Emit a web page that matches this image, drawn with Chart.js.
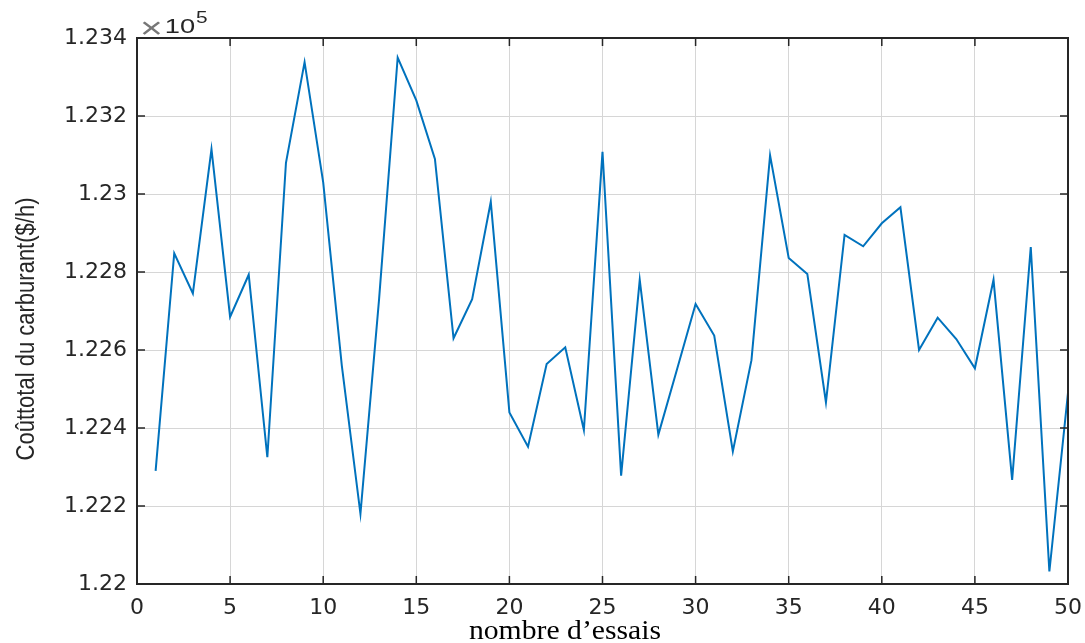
<!DOCTYPE html>
<html>
<head>
<meta charset="utf-8">
<script src="https://cdn.jsdelivr.net/npm/chart.js@4.4.1/dist/chart.umd.min.js"></script>
<style>
  html, body { margin: 0; padding: 0; background: #fff; }
</style>
</head>
<body>
<canvas id="chart" width="1085" height="643"></canvas>
<script>
// Trial number and total fuel cost, values as shown on the axis (x 10^5 $/h).
var trials = [
    1, 2, 3, 4, 5, 6, 7, 8, 9, 10,
    11, 12, 13, 14, 15, 16, 17, 18, 19, 20,
    21, 22, 23, 24, 25, 26, 27, 28, 29, 30,
    31, 32, 33, 34, 35, 36, 37, 38, 39, 40,
    41, 42, 43, 44, 45, 46, 47, 48, 49, 50
];
var fuelCost = [
    1.2229, 1.22848, 1.22745, 1.23115, 1.22685, 1.22793, 1.22325, 1.2308, 1.23338, 1.2303,
    1.2256, 1.2218, 1.2273, 1.2335, 1.2324, 1.2309, 1.2263, 1.2273, 1.2298, 1.2244,
    1.22352, 1.22564, 1.22607, 1.22395, 1.23108, 1.22278, 1.2278, 1.22383, 1.2255, 1.22718,
    1.22637, 1.2234, 1.22574, 1.23099, 1.22836, 1.22795, 1.22466, 1.22895, 1.22866, 1.22925,
    1.22966, 1.226, 1.22683, 1.22628, 1.22553, 1.2278, 1.22267, 1.22864, 1.22032, 1.2249
];
var xRange = [0, 50];
var xStep = 5;
var yRange = [1.22, 1.234];
var yStep = 0.002;
var xTitle = 'nombre d\u2019essais';
var yTitle = 'Co\u00fbttotal du carburant($/h)';
var exponentPower = '5';

var axisColour = '#262626';

// MATLAB-like box: full border, inward ticks, exponent and axis titles.
var matlabAxes = {
    id: 'matlabAxes',
    afterDraw: function(chart) {
        var ctx = chart.ctx;
        var a = chart.chartArea;
        var xs = chart.scales.x;
        var ys = chart.scales.y;

        ctx.save();
        ctx.strokeStyle = axisColour;
        ctx.lineWidth = 1.5;
        ctx.beginPath();
        xs.ticks.forEach(function(t) {
            var px = xs.getPixelForValue(t.value);
            ctx.moveTo(px, a.bottom);
            ctx.lineTo(px, a.bottom - 8);
            ctx.moveTo(px, a.top);
            ctx.lineTo(px, a.top + 8);
        });
        ys.ticks.forEach(function(t) {
            var py = ys.getPixelForValue(t.value);
            ctx.moveTo(a.left, py);
            ctx.lineTo(a.left + 8, py);
            ctx.moveTo(a.right, py);
            ctx.lineTo(a.right - 8, py);
        });
        ctx.stroke();
        ctx.lineWidth = 2;
        ctx.strokeRect(a.left, a.top, a.right - a.left, a.bottom - a.top);

        // Exponent above the y axis.
        ctx.textBaseline = 'alphabetic';
        ctx.textAlign = 'left';
        ctx.save();
        ctx.translate(a.left + 3, a.top - 5);
        ctx.scale(1.3, 1);
        ctx.font = '30px "Liberation Sans"';
        ctx.fillStyle = '#777';
        ctx.fillText('\u00d7', 0, 5);
        ctx.font = '21px "Liberation Sans"';
        ctx.fillStyle = axisColour;
        ctx.fillText('10', 19, 0);
        ctx.font = '16px "Liberation Sans"';
        ctx.fillText(exponentPower, 43, -10);
        ctx.restore();

        // X title (serif).
        ctx.save();
        ctx.translate(565, 639);
        ctx.scale(1.1, 1);
        ctx.font = '27px "Liberation Serif"';
        ctx.fillStyle = '#000';
        ctx.textAlign = 'center';
        ctx.fillText(xTitle, 0, 0);
        ctx.restore();

        // Y title, rotated.
        ctx.save();
        ctx.translate(27, 329);
        ctx.rotate(-Math.PI / 2);
        ctx.scale(1, 1.2);
        ctx.font = '22px "Liberation Sans"';
        ctx.fillStyle = axisColour;
        ctx.textAlign = 'center';
        ctx.textBaseline = 'middle';
        ctx.fillText(yTitle, 0, 0);
        ctx.restore();

        ctx.restore();
    }
};

var points = trials.map(function(t, i) {
    return {x: t, y: fuelCost[i]};
});

new Chart(document.getElementById('chart'), {
    type: 'line',
    data: {
        datasets: [{
            data: points,
            borderColor: '#0072BD',
            borderWidth: 2,
            pointRadius: 0,
            tension: 0,
            fill: false
        }]
    },
    options: {
        responsive: false,
        animation: false,
        layout: {padding: {left: 0, right: 17, top: 38, bottom: 0}},
        scales: {
            x: {
                type: 'linear',
                min: xRange[0],
                max: xRange[1],
                afterFit: function(scale) {
                    scale.height = 59;
                    scale.paddingLeft = 0;
                    scale.paddingRight = 0;
                },
                grid: {color: '#d6d6d6', lineWidth: 1, drawTicks: false},
                border: {display: false},
                ticks: {
                    stepSize: xStep,
                    padding: 11,
                    color: axisColour,
                    font: {family: 'DejaVu Sans', size: 22}
                }
            },
            y: {
                min: yRange[0],
                max: yRange[1],
                afterFit: function(scale) {
                    scale.width = 137;
                    scale.paddingTop = 0;
                    scale.paddingBottom = 0;
                },
                grid: {color: '#d6d6d6', lineWidth: 1, drawTicks: false},
                border: {display: false},
                ticks: {
                    stepSize: yStep,
                    padding: 10,
                    color: axisColour,
                    font: {family: 'DejaVu Sans', size: 22},
                    callback: function(v) {
                        return String(Number(v.toFixed(3)));
                    }
                }
            }
        },
        plugins: {
            legend: {display: false},
            tooltip: {enabled: false}
        }
    },
    plugins: [matlabAxes]
});
</script>
</body>
</html>
